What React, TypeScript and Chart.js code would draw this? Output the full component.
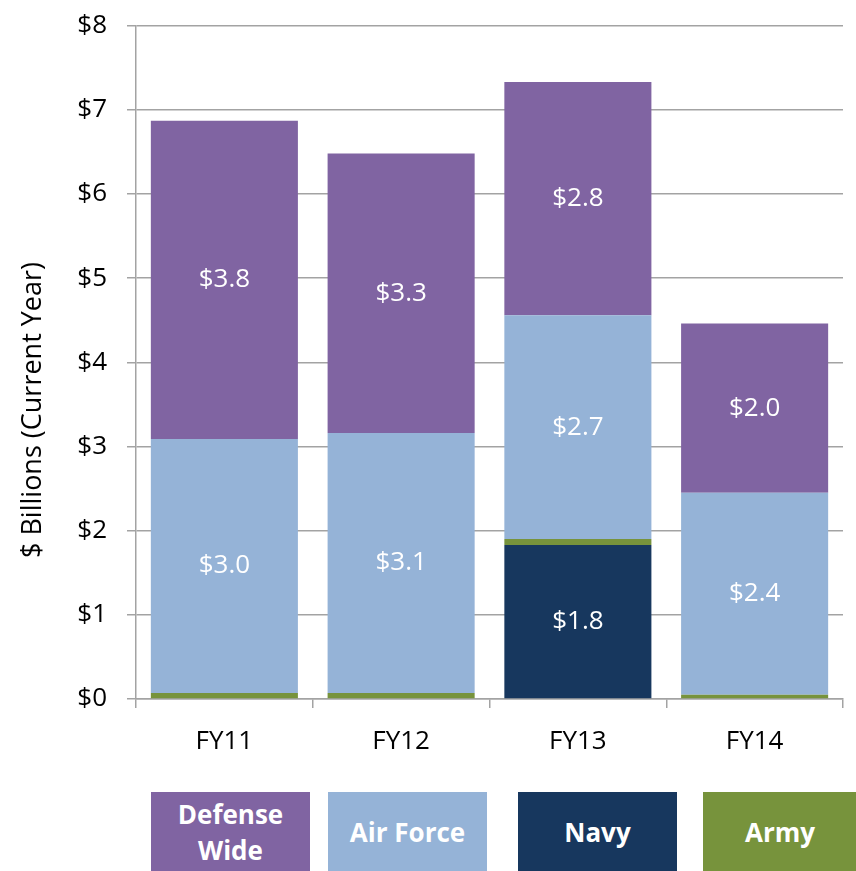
import React, { useEffect, useRef } from "react";
import { Chart, registerables } from "chart.js";

Chart.register(...registerables);

const categories = ["FY11", "FY12", "FY13", "FY14"];
const navy = [0, 0, 1.83, 0];
const army = [0.07, 0.07, 0.07, 0.05];
const airForce = [3.02, 3.09, 2.66, 2.4];
const defenseWide = [3.78, 3.32, 2.77, 2.01];
const yTicks = [0, 1, 2, 3, 4, 5, 6, 7, 8];
const yTitle = "$ Billions (Current Year)";

const COLORS = {
  dw: "#8064A2",
  af: "#95B3D7",
  navy: "#17375E",
  army: "#77933C",
};

const legendItems = [
  { label: ["Defense", "Wide"], color: COLORS.dw, left: 151, width: 159 },
  { label: ["Air Force"], color: COLORS.af, left: 328, width: 159 },
  { label: ["Navy"], color: COLORS.navy, left: 518, width: 159 },
  { label: ["Army"], color: COLORS.army, left: 703, width: 154 },
];

const FONT = "'Open Sans', sans-serif";
const GRID = "#a3a3a3";
const SHIFT = 10;

const labelPlugin = {
  id: "segLabels",
  afterDatasetsDraw(chart: any) {
    const ctx = chart.ctx;
    ctx.save();
    ctx.fillStyle = "#ffffff";
    ctx.font = `26px ${FONT}`;
    ctx.textAlign = "center";
    ctx.textBaseline = "middle";
    chart.data.datasets.forEach((ds: any, di: number) => {
      if (ds.showLabels === false) return;
      const meta = chart.getDatasetMeta(di);
      meta.data.forEach((el: any, i: number) => {
        const v = ds.data[i];
        if (!v) return;
        const y = (el.y + el.base) / 2;
        ctx.fillText("$" + v.toFixed(1), el.x, y);
      });
    });
    ctx.restore();
  },
  afterDraw(chart: any) {
    const ctx = chart.ctx;
    ctx.save();
    ctx.fillStyle = "#000";
    ctx.font = `27px ${FONT}`;
    ctx.textAlign = "center";
    ctx.textBaseline = "middle";
    ctx.translate(33, 410 + SHIFT);
    ctx.rotate(-Math.PI / 2);
    ctx.fillText(yTitle, 0, 0);
    ctx.restore();
  },
};

export default function App() {
  const ref = useRef<HTMLCanvasElement>(null);
  useEffect(() => {
    if (!ref.current) return;
    const chart = new Chart(ref.current, {
      type: "bar",
      data: {
        labels: categories,
        datasets: [
          { label: "Navy", data: navy, backgroundColor: COLORS.navy },
          { label: "Army", data: army, backgroundColor: COLORS.army, showLabels: false } as any,
          { label: "Air Force", data: airForce, backgroundColor: COLORS.af },
          { label: "Defense Wide", data: defenseWide, backgroundColor: COLORS.dw },
        ],
      },
      options: {
        responsive: false,
        animation: false,
        layout: { padding: { top: 7, right: 13, left: 0, bottom: 0 } },
        plugins: { legend: { display: false }, tooltip: { enabled: false } },
        datasets: { bar: { barPercentage: 0.832, categoryPercentage: 1 } },
        scales: {
          x: {
            stacked: true,
            afterFit: (s: any) => {
              s.height = 91;
            },
            grid: {
              drawOnChartArea: true,
              drawTicks: true,
              tickLength: 9,
              lineWidth: 1.5,
              color: (c: any) => (c.index === categories.length ? "#d0d0d0" : "rgba(0,0,0,0)"),
              tickColor: GRID,
            },
            border: { display: true, color: GRID, width: 1.5 },
            ticks: {
              color: "#000",
              font: { family: FONT, size: 26 },
              padding: 18,
            },
          },
          y: {
            stacked: true,
            min: 0,
            max: 8,
            afterFit: (s: any) => {
              s.width = 136;
            },
            afterBuildTicks: (s: any) => {
              s.ticks = yTicks.map((v) => ({ value: v }));
            },
            grid: {
              color: GRID,
              tickColor: GRID,
              lineWidth: 1.5,
              tickLength: 9,
            },
            border: { display: true, color: GRID, width: 1.5 },
            ticks: {
              color: "#000",
              font: { family: FONT, size: 26 },
              padding: 20,
              callback: (v: any) => "$" + v,
            },
          },
        },
      },
      plugins: [labelPlugin],
    });
    return () => chart.destroy();
  }, []);

  return (
    <div
      style={{
        position: "fixed",
        left: 0,
        top: 0,
        width: 856,
        height: 871,
        background: "#fff",
        overflow: "hidden",
      }}
    >
      <canvas
        ref={ref}
        width={856}
        height={790 + SHIFT}
        style={{ display: "block", position: "absolute", left: 0, top: -SHIFT }}
      />
      {legendItems.map((it) => (
        <div
          key={it.label.join(" ")}
          style={{
            position: "absolute",
            left: it.left,
            top: 792,
            width: it.width,
            height: 79,
            background: it.color,
            color: "#fff",
            fontFamily: FONT,
            fontWeight: 700,
            fontSize: 26,
            lineHeight: "36px",
            display: "flex",
            flexDirection: "column",
            alignItems: "center",
            justifyContent: "center",
          }}
        >
          {it.label.map((l) => (
            <span key={l}>{l}</span>
          ))}
        </div>
      ))}
    </div>
  );
}
